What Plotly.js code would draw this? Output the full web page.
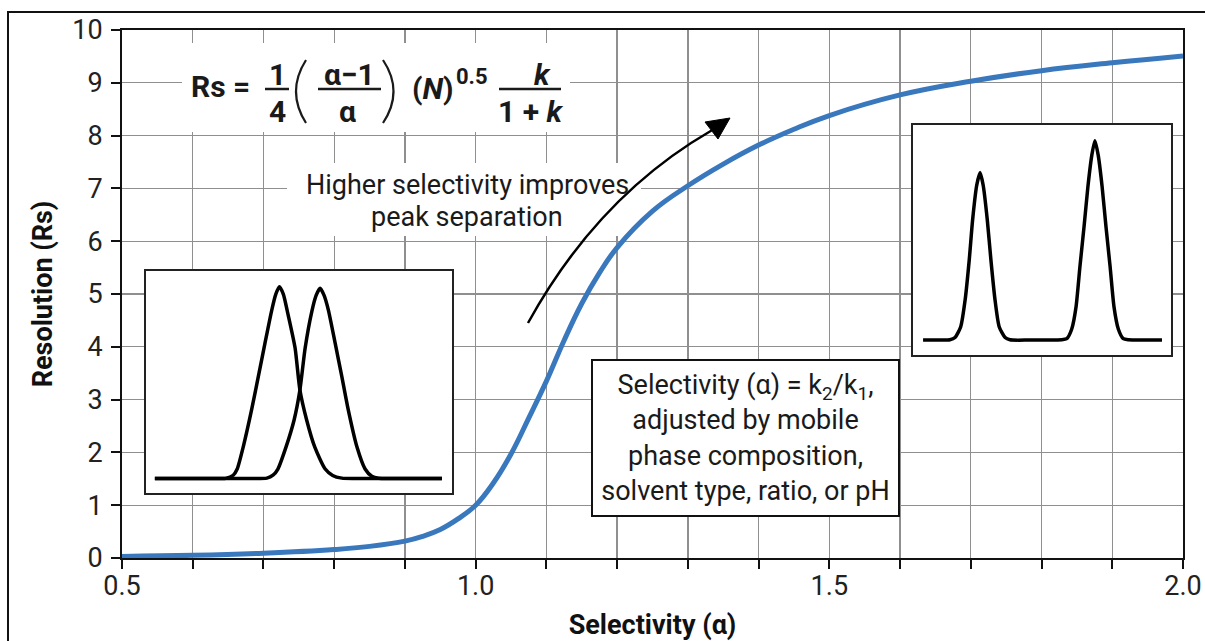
<!DOCTYPE html>
<html>
<head>
<meta charset="utf-8">
<script src="https://cdn.plot.ly/plotly-3.0.1.min.js"></script>
<style>
  html, body { margin: 0; padding: 0; background: #ffffff; }
  #chart { width: 1205px; height: 641px; }
</style>
</head>
<body>
<div id="chart"></div>
<script>
// ---- Main curve: resolution vs selectivity ----
const selectivity = [0.5, 0.6, 0.7, 0.8, 0.85, 0.9, 0.925, 0.95, 0.975, 1.0, 1.025, 1.05, 1.075, 1.1, 1.125, 1.15, 1.175, 1.2, 1.25, 1.3, 1.35, 1.4, 1.45, 1.5, 1.6, 1.7, 1.8, 1.9, 2.0];
const resolution  = [0.03, 0.05, 0.09, 0.16, 0.22, 0.32, 0.41, 0.54, 0.74, 1.0, 1.42, 1.97, 2.65, 3.35, 4.12, 4.82, 5.4, 5.88, 6.57, 7.05, 7.46, 7.82, 8.12, 8.38, 8.77, 9.03, 9.23, 9.38, 9.51];

// ---- Axis ticks ----
const xTickVals = [0.5, 0.6, 0.7, 0.8, 0.9, 1.0, 1.1, 1.2, 1.3, 1.4, 1.5, 1.6, 1.7, 1.8, 1.9, 2.0];
const xTickText = ['0.5', '', '', '', '', '1.0', '', '', '', '', '1.5', '', '', '', '', '2.0'];
const yTickVals = [0, 1, 2, 3, 4, 5, 6, 7, 8, 9, 10];
const yTickText = ['0', '1', '2', '3', '4', '5', '6', '7', '8', '9', '10'];

// ---- Left inset: poorly resolved peaks (time, signal) ----
const leftPeakA_t = [0.29, 1.5, 2.2, 2.6, 2.85, 2.98, 3.18, 3.45, 3.67, 3.89, 4.11, 4.24, 4.36, 4.49, 4.62, 4.87, 5.03, 5.25, 5.52, 5.85, 6.1, 6.4, 6.8, 7.5, 8.5, 9.67];
const leftPeakA_s = [0.065, 0.065, 0.065, 0.066, 0.08, 0.108, 0.209, 0.374, 0.524, 0.676, 0.824, 0.895, 0.929, 0.895, 0.818, 0.655, 0.464, 0.329, 0.205, 0.109, 0.079, 0.067, 0.065, 0.065, 0.065, 0.065];
const leftPeakB_t = [0.29, 1.5, 2.5, 3.5, 3.95, 4.15, 4.31, 4.58, 4.84, 5.03, 5.20, 5.42, 5.56, 5.69, 5.82, 5.96, 6.18, 6.40, 6.61, 6.89, 7.16, 7.38, 7.6, 8.2, 9.0, 9.67];
const leftPeakB_s = [0.065, 0.065, 0.065, 0.065, 0.067, 0.08, 0.108, 0.209, 0.329, 0.464, 0.652, 0.818, 0.89, 0.922, 0.89, 0.824, 0.676, 0.524, 0.374, 0.209, 0.108, 0.075, 0.066, 0.065, 0.065, 0.065];

// ---- Right inset: well resolved peaks (time, signal) ----
const rightTrace_t = [0.39, 1.0, 1.43, 1.63, 1.85, 2.02, 2.18, 2.31, 2.47, 2.60, 2.72, 2.88, 3.02, 3.18, 3.34, 3.57, 3.76, 4.5, 5.2,
                      5.76, 5.96, 6.15, 6.32, 6.47, 6.63, 6.78, 6.93, 7.05, 7.18, 7.33, 7.48, 7.64, 7.79, 7.96, 8.15, 8.34, 9.0, 9.65];
const rightTrace_s = [0.065, 0.065, 0.066, 0.076, 0.123, 0.239, 0.413, 0.587, 0.738, 0.793, 0.738, 0.587, 0.413, 0.239, 0.123, 0.076, 0.066, 0.065, 0.065,
                      0.066, 0.071, 0.112, 0.21, 0.384, 0.558, 0.732, 0.868, 0.932, 0.868, 0.732, 0.558, 0.384, 0.21, 0.112, 0.071, 0.066, 0.065, 0.065];

// ---- Page geometry (pixels) ----
const W = 1205, H = 641;
const M = { l: 122, r: 22, t: 30, b: 83 };
const PW = W - M.l - M.r, PH = H - M.t - M.b;
const px = v => (v - M.l) / PW;          // pixel x -> paper x
const py = v => (H - M.b - v) / PH;      // pixel y -> paper y
const dx = v => 0.5 + 1.5 * px(v);       // pixel x -> data x
const dy = v => 10 * py(v);              // pixel y -> data y

const FONT = 'Roboto, "Noto Sans", sans-serif';
const INK = '#1a1a1a';

const traces = [
  { x: selectivity, y: resolution, type: 'scatter', mode: 'lines',
    line: { color: '#3a78bd', width: 5, shape: 'spline', smoothing: 1.2 },
    xaxis: 'x', yaxis: 'y', hoverinfo: 'x+y' },
  { x: leftPeakA_t, y: leftPeakA_s, type: 'scatter', mode: 'lines',
    line: { color: '#000', width: 3.5, shape: 'spline', smoothing: 0.6 }, xaxis: 'x2', yaxis: 'y2' },
  { x: leftPeakB_t, y: leftPeakB_s, type: 'scatter', mode: 'lines',
    line: { color: '#000', width: 3.5, shape: 'spline', smoothing: 0.6 }, xaxis: 'x2', yaxis: 'y2' },
  { x: rightTrace_t, y: rightTrace_s, type: 'scatter', mode: 'lines',
    line: { color: '#000', width: 3.5, shape: 'spline', smoothing: 0.6 }, xaxis: 'x3', yaxis: 'y3' }
];

const insetAxis = (domain, anchor) => ({
  domain: domain, anchor: anchor, range: [0, 10], fixedrange: true,
  showgrid: false, zeroline: false, showticklabels: false, ticks: '',
  showline: true, mirror: true, linecolor: '#222', linewidth: 2
});
const insetYAxis = (domain, anchor) => ({
  domain: domain, anchor: anchor, range: [0, 1], fixedrange: true,
  showgrid: false, zeroline: false, showticklabels: false, ticks: '',
  showline: true, mirror: true, linecolor: '#222', linewidth: 2
});

// arrow geometry (pixels)
const a0 = [528, 323], ac = [598, 196], a1 = [711.5, 130.5];
const tip = [730, 118], hb1 = [705, 122], hb2 = [718, 139];

const shapes = [
  // outer frame
  { type: 'rect', xref: 'paper', yref: 'paper', x0: px(8), x1: px(1240), y0: py(670), y1: py(12),
    line: { color: '#111', width: 2 }, fillcolor: 'rgba(0,0,0,0)', layer: 'below' },
  // inset backgrounds
  { type: 'rect', xref: 'x2', yref: 'y2', x0: 0, x1: 10, y0: 0, y1: 1, fillcolor: '#fff', line: { width: 0 }, layer: 'below' },
  { type: 'rect', xref: 'x3', yref: 'y3', x0: 0, x1: 10, y0: 0, y1: 1, fillcolor: '#fff', line: { width: 0 }, layer: 'below' },
  // formula background
  { type: 'rect', xref: 'x', yref: 'y', x0: dx(182), x1: dx(570), y0: dy(132), y1: dy(43),
    fillcolor: '#fff', line: { width: 0 }, layer: 'between' },
  // text background (between grid and curve)
  { type: 'rect', xref: 'x', yref: 'y', x0: dx(287), x1: dx(641), y0: dy(236), y1: dy(163),
    fillcolor: '#fff', line: { width: 0 }, layer: 'between' },
  // fraction bars
  { type: 'line', xref: 'paper', yref: 'paper', x0: px(265), x1: px(289), y0: py(89), y1: py(89), line: { color: INK, width: 2.5 }, layer: 'above' },
  { type: 'line', xref: 'paper', yref: 'paper', x0: px(318), x1: px(381), y0: py(89), y1: py(89), line: { color: INK, width: 2.5 }, layer: 'above' },
  { type: 'line', xref: 'paper', yref: 'paper', x0: px(499), x1: px(561), y0: py(89), y1: py(89), line: { color: INK, width: 2.5 }, layer: 'above' },
  // big parentheses
  { type: 'path', xref: 'paper', yref: 'paper', layer: 'above', line: { color: INK, width: 2.2 },
    path: `M ${px(306)},${py(60)} Q ${px(286)},${py(91.5)} ${px(306)},${py(123)}` },
  { type: 'path', xref: 'paper', yref: 'paper', layer: 'above', line: { color: INK, width: 2.2 },
    path: `M ${px(383)},${py(60)} Q ${px(404)},${py(91.5)} ${px(383)},${py(123)}` },
  // curved arrow
  { type: 'path', xref: 'paper', yref: 'paper', layer: 'above', line: { color: '#000', width: 2.5 },
    path: `M ${px(a0[0])},${py(a0[1])} Q ${px(ac[0])},${py(ac[1])} ${px(a1[0])},${py(a1[1])}` },
  { type: 'path', xref: 'paper', yref: 'paper', layer: 'above', line: { color: '#000', width: 1 }, fillcolor: '#000',
    path: `M ${px(tip[0])},${py(tip[1])} L ${px(hb1[0])},${py(hb1[1])} L ${px(hb2[0])},${py(hb2[1])} Z` }
];

const ann = (x, y, text, size, extra) => Object.assign({
  xref: 'paper', yref: 'paper', x: px(x), y: py(y), text: text, showarrow: false,
  xanchor: 'center', yanchor: 'middle', font: { family: FONT, size: size, color: INK }
}, extra || {});

const annotations = [
  ann(220, 87, '<b>Rs =</b>', 30),
  ann(277, 74, '<b>1</b>', 30),
  ann(277, 111, '<b>4</b>', 30),
  ann(349, 74, '<b>α−1</b>', 30),
  ann(347, 111, '<b>α</b>', 30),
  ann(433, 88, '<b>(<i>N</i>)</b>', 30),
  ann(472, 76, '<b>0.5</b>', 22),
  ann(542, 74, '<b><i>k</i></b>', 30),
  ann(530, 111, '<b>1 + <i>k</i></b>', 30),
  ann(467, 185, 'Higher selectivity improves', 27),
  ann(467, 217, 'peak separation', 27),
  ann(745.5, 437.5, 'Selectivity (α) = k<sub>2</sub>/k<sub>1</sub>,<br>adjusted by mobile<br>phase composition,<br>solvent type, ratio, or pH', 27,
      { bgcolor: '#fff', bordercolor: '#111', borderwidth: 2, borderpad: 0, width: 305, height: 154 })
];

const layout = {
  width: W, height: H,
  margin: M,
  paper_bgcolor: '#fff', plot_bgcolor: '#fff',
  showlegend: false,
  font: { family: FONT, color: INK },
  xaxis: {
    range: [0.5, 2.0], tickmode: 'array', tickvals: xTickVals, ticktext: xTickText,
    showgrid: true, gridcolor: '#8f8f8f', gridwidth: 1.3,
    zeroline: false, showline: true, mirror: true, linecolor: '#111', linewidth: 2,
    ticks: 'outside', ticklen: 9, tickwidth: 2, tickcolor: '#111', ticklabelstandoff: -6,
    tickfont: { family: FONT, size: 27, color: '#222' },
    title: { text: '<b>Selectivity (α)</b>', font: { family: FONT, size: 27, color: '#111' }, standoff: 14 },
    fixedrange: true
  },
  yaxis: {
    range: [0, 10], tickmode: 'array', tickvals: yTickVals, ticktext: yTickText,
    showgrid: true, gridcolor: '#8f8f8f', gridwidth: 1.3,
    zeroline: false, showline: true, mirror: true, linecolor: '#111', linewidth: 2,
    ticks: 'outside', ticklen: 9, tickwidth: 2, tickcolor: '#111', ticklabelstandoff: 3,
    tickfont: { family: FONT, size: 27, color: '#222' },
    title: { text: '<b>Resolution (Rs)</b>', font: { family: FONT, size: 27, color: '#111' }, standoff: 12 },
    fixedrange: true
  },
  xaxis2: insetAxis([px(146), px(452)], 'y2'),
  yaxis2: insetYAxis([py(493), py(271)], 'x2'),
  xaxis3: insetAxis([px(913), px(1171)], 'y3'),
  yaxis3: insetYAxis([py(355), py(125)], 'x3'),
  shapes: shapes,
  annotations: annotations
};

Plotly.newPlot('chart', traces, layout, { displayModeBar: false, staticPlot: true });
</script>
</body>
</html>
